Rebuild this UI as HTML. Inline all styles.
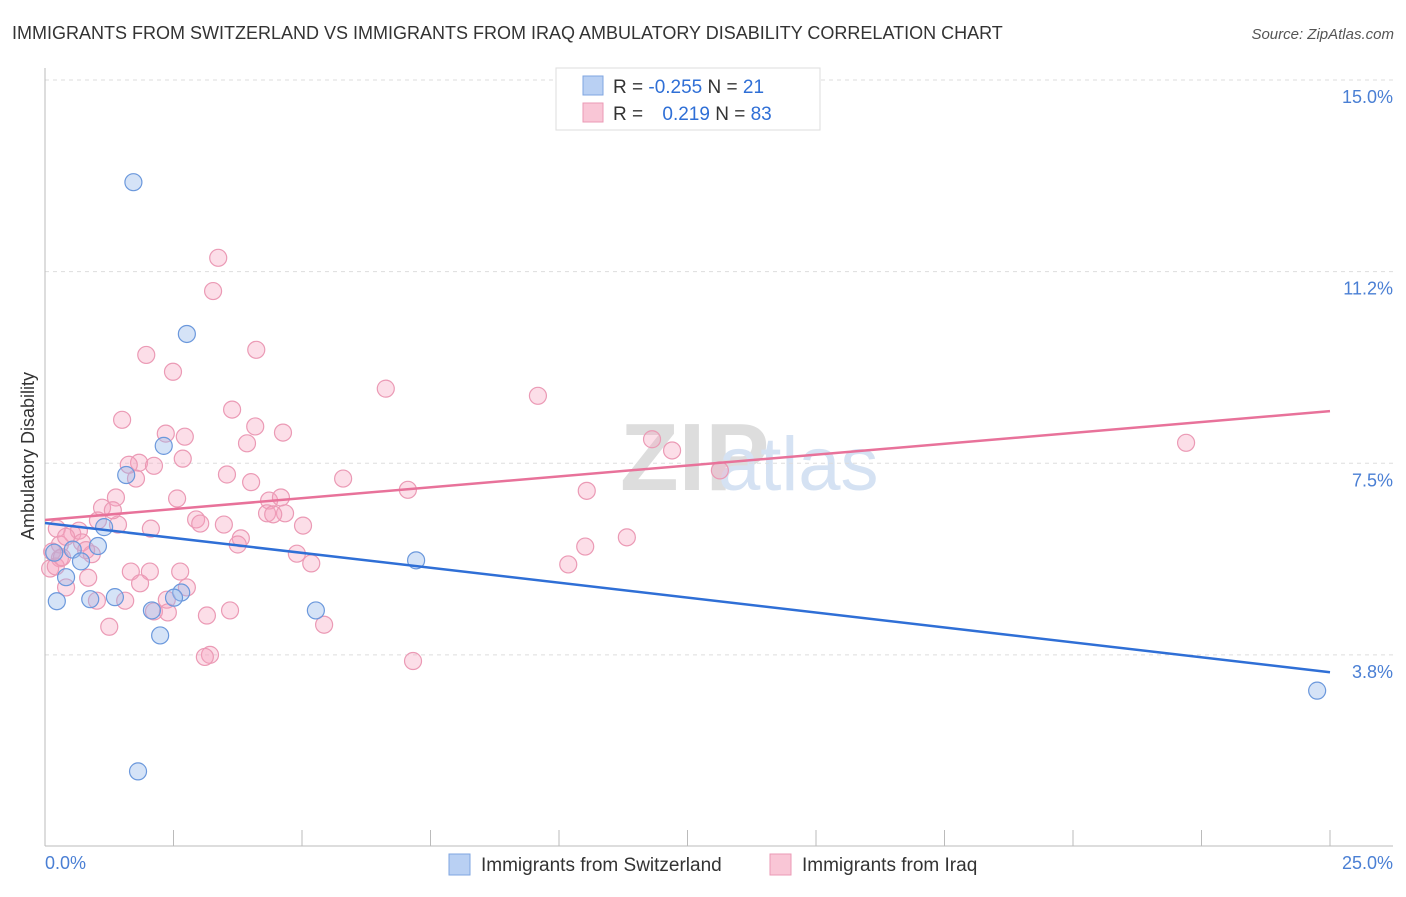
<!DOCTYPE html>
<html><head><meta charset="utf-8"><style>
body{margin:0;background:#fff;font-family:"Liberation Sans",sans-serif;}
svg text{font-family:"Liberation Sans",sans-serif;}
</style></head><body>
<svg id="c" width="1406" height="892">
<text x="12" y="39" font-size="18" fill="#333">IMMIGRANTS FROM SWITZERLAND VS IMMIGRANTS FROM IRAQ AMBULATORY DISABILITY CORRELATION CHART</text>
<text x="1394" y="39" font-size="15" fill="#555" font-style="italic" text-anchor="end">Source: ZipAtlas.com</text>
<text x="620" y="490" font-size="96" fill="#ddd" font-family="Liberation Serif" font-weight="bold">ZIP</text>
<text x="718" y="490" font-size="76" fill="#d5e2f3">atlas</text>
<g id="grid"></g>
<g id="axes"></g>
<g id="pts"></g>
<g id="lines"></g>
<text transform="translate(34,456) rotate(-90)" font-size="18" fill="#333" text-anchor="middle">Ambulatory Disability</text>
<text x="45" y="869" font-size="18" fill="#4a7fd4">0.0%</text>
<text x="1393" y="869" font-size="18" fill="#4a7fd4" text-anchor="end">25.0%</text>
<g>
<rect x="556" y="68" width="264" height="62" fill="#fff" stroke="#ddd"/>
<rect x="583" y="76" width="20" height="19" fill="#b9d0f3" stroke="#7fa6e0"/>
<rect x="583" y="103" width="20" height="19" fill="#f9c6d6" stroke="#eb9ab5"/>
<text x="613" y="93" font-size="19" fill="#333">R = <tspan fill="#2f6fd6">-0.255</tspan>   N = <tspan fill="#2f6fd6">21</tspan></text>
<text x="613" y="120" font-size="19" fill="#333">R = <tspan fill="#2f6fd6" dx="14">0.219</tspan>   N = <tspan fill="#2f6fd6">83</tspan></text>
</g>
<g>
<rect x="449" y="854" width="21" height="21" fill="#b9d0f3" stroke="#7fa6e0"/>
<text x="481" y="871" font-size="19" fill="#333">Immigrants from Switzerland</text>
<rect x="770" y="854" width="21" height="21" fill="#f9c6d6" stroke="#eb9ab5"/>
<text x="802" y="871" font-size="19" fill="#333">Immigrants from Iraq</text>
</g>
</svg>
<script>
const yTicks=[3.75,7.5,11.25,15];
const yTickLabels=["3.8%","7.5%","11.2%","15.0%"];
const xTicks=[0,2.5,5,7.5,10,12.5,15,17.5,20,22.5,25];
const blueX=[1.72,2.76,2.31,1.58,1.15,1.03,0.54,0.18,0.41,0.70,0.23,0.88,1.36,2.08,2.65,2.51,2.24,5.27,7.22,1.81,24.75];
const blueY=[13.00,10.03,7.84,7.27,6.25,5.88,5.81,5.75,5.27,5.58,4.80,4.84,4.88,4.62,4.97,4.87,4.13,4.62,5.60,1.47,3.05];
const pinkX=[3.37,3.27,1.97,4.11,2.49,6.63,9.59,3.64,1.50,4.09,4.63,2.35,2.72,3.93,11.81,22.2,1.83,2.68,2.12,12.2,1.77,3.54,4.01,5.80,13.13,7.06,10.54,2.57,1.38,1.11,4.36,4.59,4.32,4.67,4.44,2.94,3.02,3.48,5.02,2.06,1.42,1.03,0.23,0.53,0.66,3.81,3.75,11.32,10.51,0.72,0.91,4.90,5.18,10.18,0.29,0.10,1.67,2.04,2.63,0.84,0.41,1.85,2.76,2.37,1.01,1.56,2.12,2.39,3.15,3.60,1.25,5.43,3.21,3.11,7.16,0.29,0.14,0.41,0.21,0.33,1.32,0.80,1.63];
const pinkY=[11.52,10.87,9.62,9.72,9.29,8.96,8.82,8.55,8.35,8.22,8.10,8.08,8.02,7.89,7.97,7.90,7.51,7.59,7.45,7.75,7.20,7.28,7.13,7.20,7.36,6.98,6.96,6.81,6.83,6.63,6.77,6.83,6.52,6.52,6.50,6.40,6.32,6.30,6.28,6.22,6.30,6.38,6.22,6.12,6.18,6.03,5.91,6.05,5.87,5.95,5.72,5.73,5.54,5.52,5.64,5.44,5.38,5.38,5.38,5.26,5.07,5.15,5.07,4.83,4.81,4.81,4.60,4.58,4.52,4.62,4.30,4.34,3.75,3.71,3.63,5.91,5.77,6.06,5.48,5.66,6.58,5.80,7.47];
const pinkTrend=[6.39,8.52];
const blueTrend=[6.33,3.41];
const xs=v=>45+v*51.4, ys=v=>80+(15-v)*51.1;
const NS="http://www.w3.org/2000/svg";
function mk(t,a,p){const e=document.createElementNS(NS,t);for(const k in a)e.setAttribute(k,a[k]);document.getElementById(p).appendChild(e);return e;}
yTicks.forEach((v,i)=>{
 const g=mk('line',{x1:45,x2:1393,y1:ys(v),y2:ys(v),stroke:'#ddd','stroke-dasharray':'4,4'},'grid');
 
 
 const t=mk('text',{x:1393,y:ys(v)+23,'font-size':18,fill:'#4a7fd4','text-anchor':'end'},'grid');
 t.textContent=yTickLabels[i];
 
 
});
const ax=mk('line',{x1:45,x2:45,y1:68,y2:846,stroke:'#bbb'},'axes');


const bx=mk('line',{x1:45,x2:1393,y1:846,y2:846,stroke:'#bbb'},'axes');


xTicks.forEach(v=>{
 const t=mk('line',{x1:xs(v),x2:xs(v),y1:830,y2:846,stroke:'#bbb'},'axes');
 
 
});
pinkX.forEach((v,i)=>{
 const c=mk('circle',{cx:xs(v),cy:ys(pinkY[i]),r:8.5,fill:'rgba(245,160,188,0.35)',stroke:'#eb9ab5','stroke-width':1.2},'pts');
 
 
});
blueX.forEach((v,i)=>{
 const c=mk('circle',{cx:xs(v),cy:ys(blueY[i]),r:8.5,fill:'rgba(150,185,235,0.4)',stroke:'#6b98dc','stroke-width':1.2},'pts');
 
 
});
const pl=mk('line',{x1:xs(0),x2:xs(25),y1:ys(pinkTrend[0]),y2:ys(pinkTrend[1]),stroke:'#e8729a','stroke-width':2.5},'lines');


const bl=mk('line',{x1:xs(0),x2:xs(25),y1:ys(blueTrend[0]),y2:ys(blueTrend[1]),stroke:'#2f6fd6','stroke-width':2.5},'lines');


</script>
</body></html>
